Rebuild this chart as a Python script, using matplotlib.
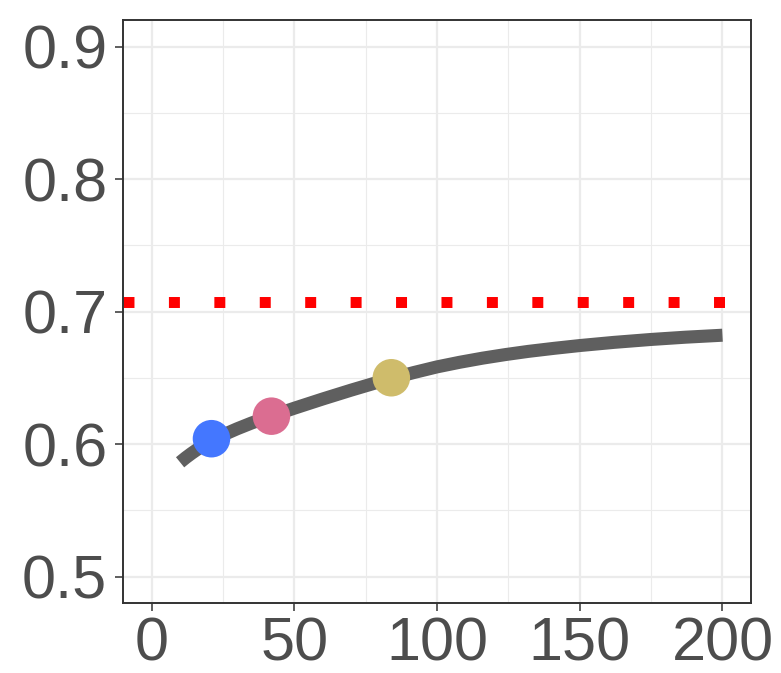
import matplotlib
matplotlib.use("Agg")
import matplotlib.pyplot as plt
from matplotlib.ticker import MultipleLocator

# curve read along its length
curve_n = [10, 12, 14, 16, 18, 21, 25, 30, 35, 42, 50, 60, 70, 78, 84, 92,
           100, 108, 116, 124, 132, 141, 150, 162, 175, 187, 200]
curve_val = [0.5862, 0.5897, 0.5929, 0.5959, 0.5986, 0.6024, 0.6068, 0.6115,
             0.6158, 0.6212, 0.6270, 0.6340, 0.6407, 0.6458, 0.6495, 0.6540,
             0.6582, 0.6617, 0.6648, 0.6675, 0.6699, 0.6722, 0.6743, 0.6767,
             0.6789, 0.6806, 0.6821]

# highlighted points
pt_n = [21, 42, 84]
pt_val = [0.604, 0.621, 0.650]
pt_colors = ["#4477ff", "#db6d91", "#cfbc6b"]

ref_level = 0.7071

plt.rcParams["font.family"] = ["Liberation Sans", "DejaVu Sans"]

fig = plt.figure(figsize=(7.81, 6.73), dpi=100)
ax = fig.add_axes([123 / 781, 1 - 603 / 673, 628 / 781, 583 / 673])

ax.set_xlim(-10, 210)
ax.set_ylim(0.48, 0.92)

ax.xaxis.set_minor_locator(MultipleLocator(25))
ax.yaxis.set_minor_locator(MultipleLocator(0.05))
ax.set_yticks([0.5, 0.6, 0.7, 0.8, 0.9])
ax.set_yticklabels(["0.5", "0.6", "0.7", "0.8", "0.9"])
ax.set_xticks([0, 50, 100, 150, 200])
ax.set_xticklabels(["0", "50", "100", "150", "200"])

ax.grid(which="major", color="#ebebeb", linewidth=1.6, zorder=0)
ax.grid(which="minor", color="#ebebeb", linewidth=0.8, zorder=0)
ax.set_axisbelow(True)

ax.tick_params(which="major", length=5.8, width=1.1, color="#333333",
               labelsize=44, labelcolor="#4d4d4d", pad=4)
ax.tick_params(axis="y", which="major", pad=5.5)
ax.tick_params(which="minor", length=0)

for side in ax.spines.values():
    side.set_color("#333333")
    side.set_linewidth(1.4)

ax.axhline(ref_level, color="#ff0000", linewidth=7.9,
           linestyle=(0, (1, 3.14)), dash_capstyle="butt", zorder=2)

ax.plot(curve_n, curve_val, color="#5f5f5f", linewidth=9.4,
        solid_capstyle="butt", solid_joinstyle="round", zorder=3)

ax.scatter(pt_n, pt_val, s=730, c=pt_colors, linewidths=0, zorder=4)

fig.savefig("out.png", dpi=100)
